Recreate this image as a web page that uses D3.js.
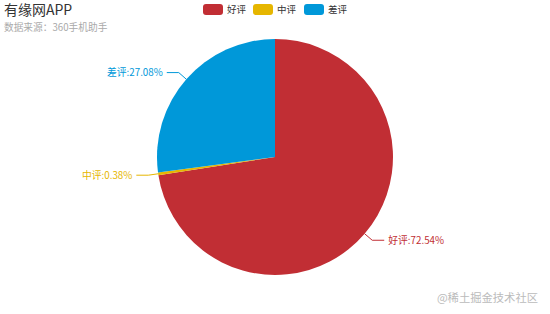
<!DOCTYPE html>
<html>
<head>
<meta charset="utf-8">
<script src="https://cdn.jsdelivr.net/npm/d3@7/dist/d3.min.js"></script>
<style>
body { margin: 0; background: #fff; }
text { font-family: "Microsoft YaHei", "Noto Sans CJK SC", sans-serif; }
</style>
</head>
<body>
<svg id="chart" width="550" height="314"></svg>
<script>
var width = 550, height = 314

var categories = ["好评", "中评", "差评"]
var values = [72.54, 0.38, 27.08]
var colors = ["#c12e34", "#e6b600", "#0098d9"]

var data = categories.map((c, i) => ({name: c, value: values[i], color: colors[i]}))

var svg = d3.select('#chart')
var cx = 275, cy = 157, r = 118

var pie = d3.pie().value(d => d.value).sort(null)
var arc = d3.arc().innerRadius(0).outerRadius(r)
var arcs = pie(data)

var g = svg.append('g').attr('transform', `translate(${cx},${cy})`)

g.selectAll('path')
  .data(arcs)
  .enter().append('path')
  .attr('d', arc)
  .attr('fill', d => d.data.color)

// label lines
var len1 = 10, len2 = 12
arcs.forEach(d => {
  var mid = (d.startAngle + d.endAngle) / 2
  var sx = Math.sin(mid), sy = -Math.cos(mid)
  var p0 = [sx * r, sy * r]
  var p1 = [sx * (r + len1), sy * (r + len1)]
  var dir = sx >= 0 ? 1 : -1
  var p2 = [p1[0] + dir * len2, p1[1]]
  g.append('polyline')
    .attr('points', [p0, p1, p2].map(p => p.join(',')).join(' '))
    .attr('fill', 'none')
    .attr('stroke', d.data.color)
    .attr('stroke-width', 1)
  g.append('text')
    .attr('x', p2[0] + dir * 4)
    .attr('y', p2[1])
    .attr('dy', '0.35em')
    .attr('text-anchor', dir > 0 ? 'start' : 'end')
    .attr('fill', d.data.color)
    .style('font-size', '9.8px')
    .text(d.data.name + ':' + d.data.value.toFixed(2) + '%')
})

// title
svg.append('text')
  .attr('x', 4).attr('y', 15)
  .attr('fill', '#333')
  .style('font-size', '14px')
  .text('有缘网APP')

svg.append('text')
  .attr('x', 4).attr('y', 31)
  .attr('fill', '#aaa')
  .style('font-size', '9.7px')
  .text('数据来源：360手机助手')

// legend
var legendX = [203, 253, 304]
var lg = svg.selectAll('.legend')
  .data(data)
  .enter().append('g')
  .attr('transform', (d, i) => `translate(${legendX[i]},4)`)

lg.append('rect')
  .attr('width', 20).attr('height', 11)
  .attr('rx', 3)
  .attr('fill', d => d.color)

lg.append('text')
  .attr('x', 24).attr('y', 5.5)
  .attr('dy', '0.35em')
  .attr('fill', '#333')
  .style('font-size', '9.5px')
  .text(d => d.name)

// watermark
svg.append('text')
  .attr('x', 538).attr('y', 302)
  .attr('text-anchor', 'end')
  .attr('fill', '#bbb')
  .style('font-size', '11.3px')
  .text('@稀土掘金技术社区')
</script>
</body>
</html>
